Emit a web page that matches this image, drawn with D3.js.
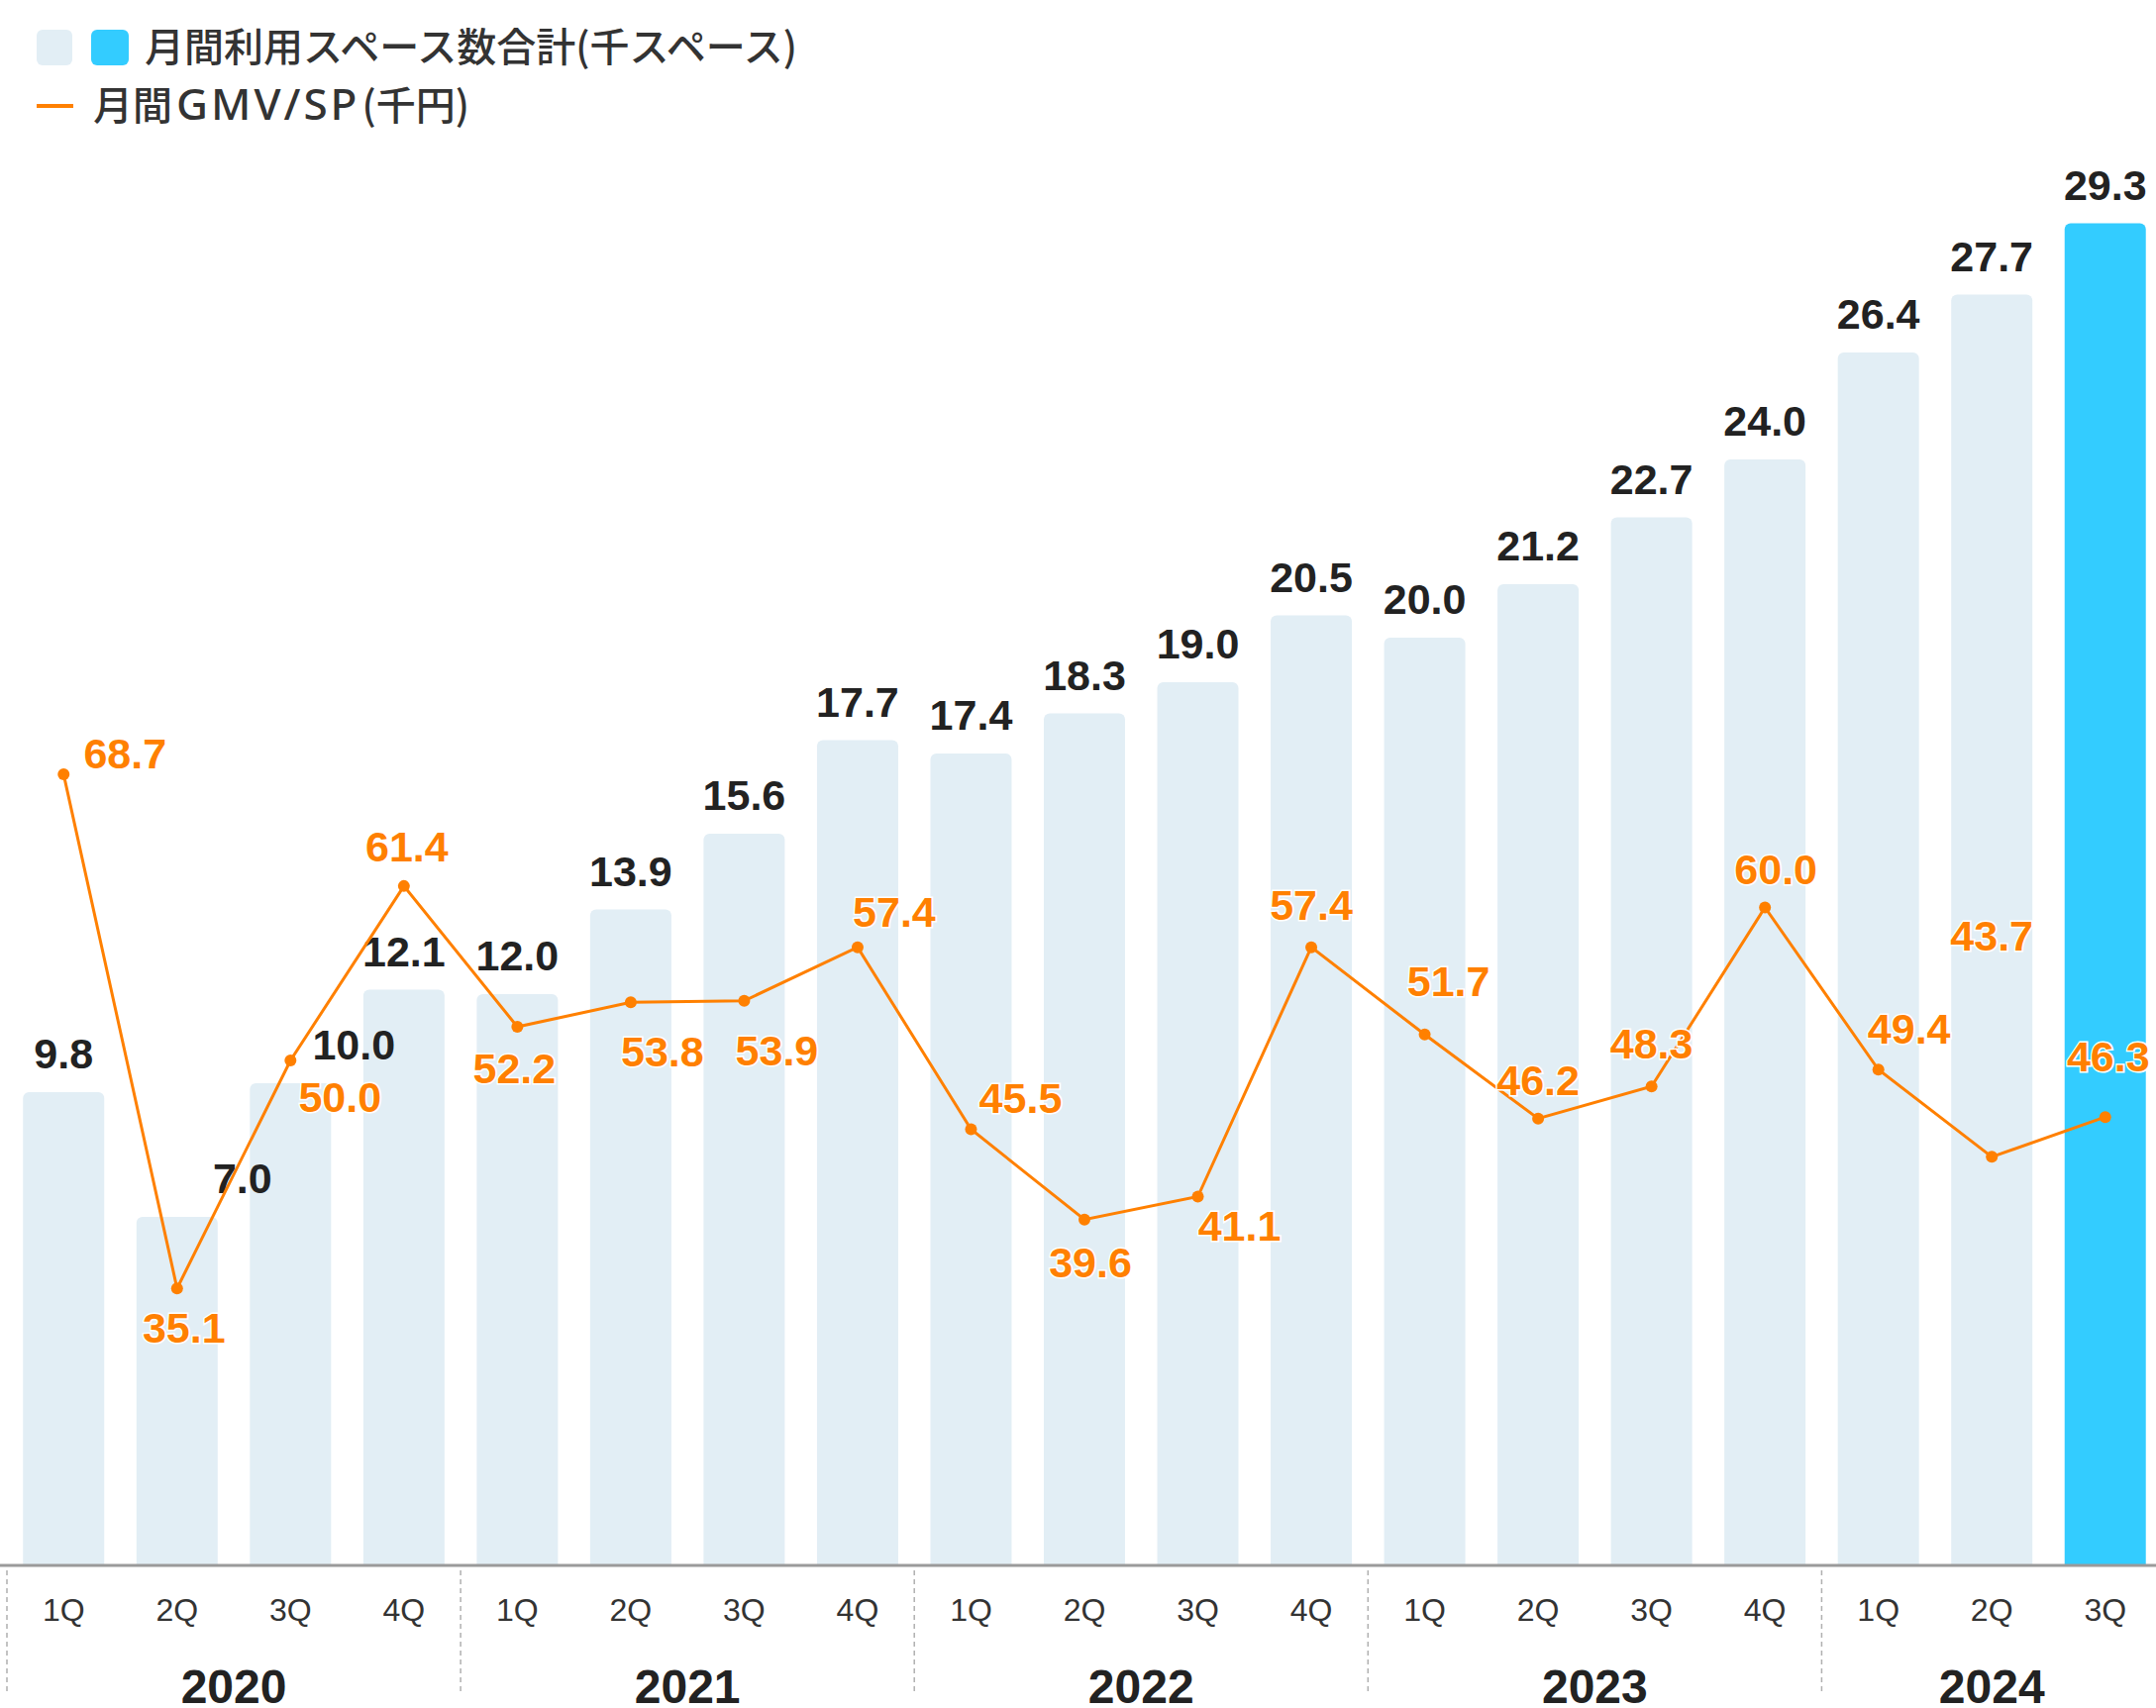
<!DOCTYPE html>
<html>
<head>
<meta charset="utf-8">
<script src="https://cdn.jsdelivr.net/npm/d3@7"></script>
<style>
  body { margin: 0; background: #fff; }
  text { font-family: "Liberation Sans", Arial, sans-serif; }
  .legend text { font-family: "Noto Sans CJK JP", sans-serif; }
</style>
</head>
<body>
<svg id="chart" width="2177" height="1725"></svg>
<script>
// data
const years = ["2020", "2021", "2022", "2023", "2024"];
const quarters = ["1Q", "2Q", "3Q", "4Q", "1Q", "2Q", "3Q", "4Q", "1Q", "2Q", "3Q", "4Q", "1Q", "2Q", "3Q", "4Q", "1Q", "2Q", "3Q"];
const periodYears = ["2020", "2020", "2020", "2020", "2021", "2021", "2021", "2021", "2022", "2022", "2022", "2022", "2023", "2023", "2023", "2023", "2024", "2024", "2024"];
const spaces = [9.8, 7.0, 10.0, 12.1, 12.0, 13.9, 15.6, 17.7, 17.4, 18.3, 19.0, 20.5, 20.0, 21.2, 22.7, 24.0, 26.4, 27.7, 29.3];
const gmvPerSpace = [68.7, 35.1, 50.0, 61.4, 52.2, 53.8, 53.9, 57.4, 45.5, 39.6, 41.1, 57.4, 51.7, 46.2, 48.3, 60.0, 49.4, 43.7, 46.3];
const legendBar = "月間利用スペース数合計(千スペース)";
const legendLine = ["月間", "GMV/SP", "(千円)"];

// label nudges (layout only)
const barLabelShift = { 1: 66, 2: 64 };
const lineLabelShift = [[62, -22], [7, 39], [50, 37], [3, -40], [-3, 42], [32, 49], [33, 50], [37, -36], [50, -32], [6, 43],
  [42, 29], [0, -43], [24, -54], [0, -39], [0, -44], [11, -39], [31, -42], [0, -224], [3, -62]];

const data = spaces.map((v, i) => ({
  id: periodYears[i] + "-" + quarters[i],
  year: periodYears[i],
  q: quarters[i],
  space: v,
  gmv: gmvPerSpace[i],
  i: i,
}));

const svg = d3.select("#chart");
const baseY = 1580;
const lightBar = "#e2eef5";
const hiBar = "#33ccff";
const orange = "#ff8000";
const dark = "#222";

const x = d3.scaleBand().domain(data.map((d) => d.id)).range([7, 2183]).paddingInner(0.284).paddingOuter(0.142);
const yBar = d3.scaleLinear().domain([-0.8, 30]).range([baseY, baseY - 30.8 * 45.0]);
const yLine = d3.scaleLinear().domain([30, 70]).range([1380, 762]);

// clip so bars only round at the top
svg.append("clipPath").attr("id", "plot")
  .append("rect").attr("x", 0).attr("y", 0).attr("width", 2177).attr("height", baseY);

svg.append("g").attr("clip-path", "url(#plot)")
  .selectAll("rect")
  .data(data)
  .join("rect")
  .attr("x", (d) => x(d.id))
  .attr("y", (d) => yBar(d.space))
  .attr("width", x.bandwidth())
  .attr("height", (d) => baseY - yBar(d.space) + 10)
  .attr("rx", 6)
  .attr("fill", (d, i) => (i === data.length - 1 ? hiBar : lightBar));

// axis line
svg.append("line")
  .attr("x1", 0).attr("x2", 2177)
  .attr("y1", baseY + 1).attr("y2", baseY + 1)
  .attr("stroke", "#9a9a9a").attr("stroke-width", 3);

// year separators
const yearStarts = years.map((yr) => data.find((d) => d.year === yr));
svg.selectAll(".sep")
  .data(yearStarts)
  .join("line")
  .attr("class", "sep")
  .attr("x1", (d) => x(d.id) - (x.step() - x.bandwidth()) / 2)
  .attr("x2", (d) => x(d.id) - (x.step() - x.bandwidth()) / 2)
  .attr("y1", baseY + 6).attr("y2", 1708)
  .attr("stroke", "#b0b0b0").attr("stroke-width", 1.5)
  .attr("stroke-dasharray", "5,4");

// quarter labels
svg.selectAll(".qlab")
  .data(data)
  .join("text")
  .attr("class", "qlab")
  .attr("x", (d) => x(d.id) + x.bandwidth() / 2)
  .attr("y", 1637)
  .attr("text-anchor", "middle")
  .attr("font-size", 32)
  .attr("fill", "#333")
  .text((d) => d.q);

// year labels
svg.selectAll(".ylab")
  .data(years)
  .join("text")
  .attr("class", "ylab")
  .attr("x", (yr) => {
    const ds = data.filter((d) => d.year === yr);
    return (x(ds[0].id) + x(ds[ds.length - 1].id) + x.bandwidth()) / 2;
  })
  .attr("y", 1720)
  .attr("text-anchor", "middle")
  .attr("font-size", 48)
  .attr("font-weight", "bold")
  .attr("fill", dark)
  .text((yr) => yr);

// bar value labels
svg.selectAll(".blab")
  .data(data)
  .join("text")
  .attr("class", "blab")
  .attr("x", (d) => x(d.id) + x.bandwidth() / 2 + (barLabelShift[d.i] || 0))
  .attr("y", (d) => yBar(d.space) - 24)
  .attr("text-anchor", "middle")
  .attr("font-size", 43)
  .attr("font-weight", "bold")
  .attr("fill", dark)
  .text((d) => d.space.toFixed(1));

// line
const line = d3.line()
  .x((d) => x(d.id) + x.bandwidth() / 2)
  .y((d) => yLine(d.gmv));

svg.append("path")
  .datum(data)
  .attr("d", line)
  .attr("fill", "none")
  .attr("stroke", orange)
  .attr("stroke-width", 3);

svg.selectAll(".dot")
  .data(data)
  .join("circle")
  .attr("class", "dot")
  .attr("cx", (d) => x(d.id) + x.bandwidth() / 2)
  .attr("cy", (d) => yLine(d.gmv))
  .attr("r", 6)
  .attr("fill", orange);

svg.selectAll(".llab")
  .data(data)
  .join("text")
  .attr("class", "llab")
  .attr("x", (d) => x(d.id) + x.bandwidth() / 2 + lineLabelShift[d.i][0])
  .attr("y", (d) => yLine(d.gmv) + lineLabelShift[d.i][1])
  .attr("dy", "0.36em")
  .attr("text-anchor", "middle")
  .attr("font-size", 43)
  .attr("font-weight", "bold")
  .attr("fill", orange)
  .attr("stroke", "#fff")
  .attr("stroke-width", 3)
  .attr("paint-order", "stroke")
  .text((d) => d.gmv.toFixed(1));

// legend
const legend = svg.append("g").attr("class", "legend");
legend.append("rect").attr("x", 37).attr("y", 30).attr("width", 36).attr("height", 36).attr("rx", 6).attr("fill", lightBar);
legend.append("rect").attr("x", 92).attr("y", 30).attr("width", 38).attr("height", 36).attr("rx", 6).attr("fill", hiBar);
legend.append("text").attr("x", 146).attr("y", 48).attr("dy", "0.36em")
  .attr("font-size", 40).attr("font-weight", 500)
  .attr("fill", "#333").text(legendBar);
legend.append("line").attr("x1", 37).attr("x2", 74).attr("y1", 107).attr("y2", 107)
  .attr("stroke", orange).attr("stroke-width", 4);
const lt = legend.append("text").attr("x", 94).attr("y", 107).attr("dy", "0.36em")
  .attr("font-size", 40).attr("font-weight", 500).attr("fill", "#333");
lt.append("tspan").text(legendLine[0]);
lt.append("tspan").attr("dx", 4).attr("font-family", "'Noto Sans', sans-serif").attr("font-size", 44)
  .attr("letter-spacing", 3).text(legendLine[1]);
lt.append("tspan").attr("dx", 2).text(legendLine[2]);
</script>
</body>
</html>
